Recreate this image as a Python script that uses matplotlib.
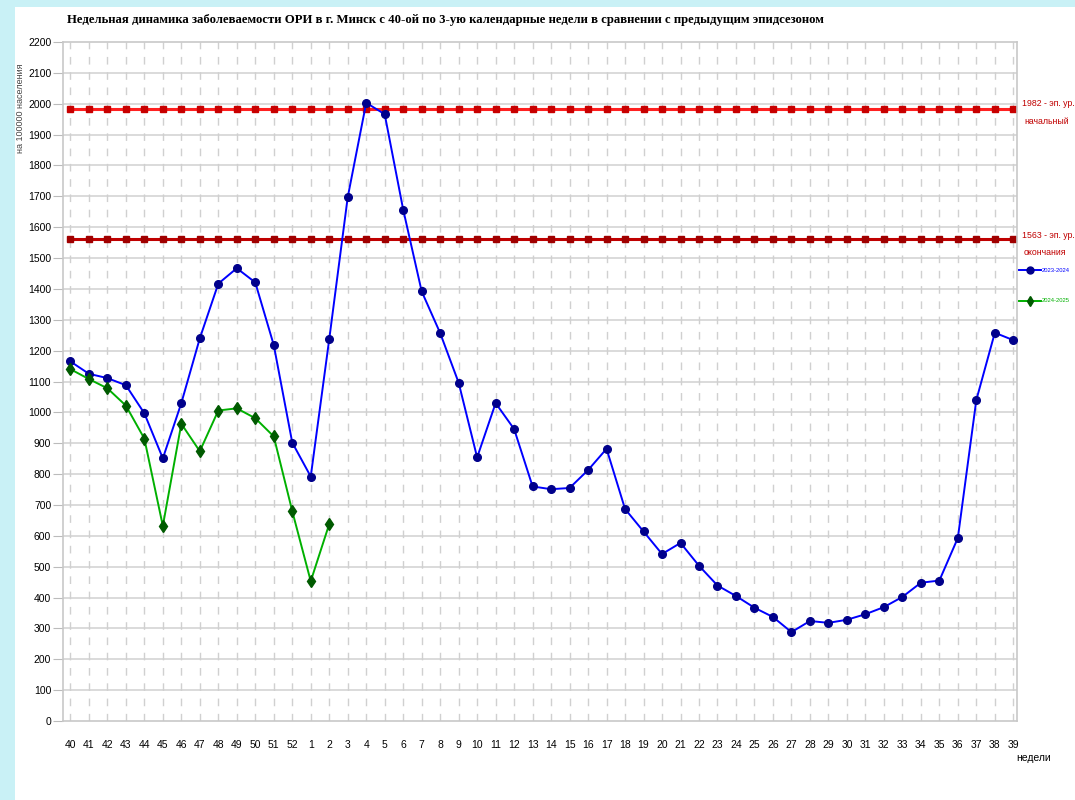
import numpy as np
import matplotlib.pyplot as plt
from matplotlib.patches import Rectangle

# weeks 40..52, 1..39
weeks = [str(w) for w in list(range(40, 53)) + list(range(1, 40))]

season_2023 = [1165, 1125, 1111, 1088, 997, 851, 1030, 1240, 1417, 1467, 1421, 1218, 902,
               792, 1237, 1697, 2003, 1966, 1657, 1392, 1257, 1096, 854, 1030, 946, 760,
               751, 755, 813, 882, 687, 614, 541, 577, 503, 439, 405, 367, 337, 288,
               324, 318, 328, 346, 369, 402, 448, 455, 593, 1040, 1258, 1234]
season_2024 = [1140, 1108, 1078, 1022, 915, 632, 963, 874, 1006, 1013, 981, 922, 680,
               453, 638]

level_start = 1982
level_end = 1563

sans = 'Liberation Sans'

fig = plt.figure(figsize=(10.75, 8), dpi=100)
fig.patch.set_facecolor('white')
# light cyan frame of the slide
fig.add_artist(Rectangle((0, 0), 15 / 1075, 1, transform=fig.transFigure,
                         facecolor='#c9f1f6', edgecolor='none'))
fig.add_artist(Rectangle((0, 1 - 7 / 800), 1, 7 / 800, transform=fig.transFigure,
                         facecolor='#c9f1f6', edgecolor='none'))

ax = fig.add_axes([63 / 1075, 1 - 721 / 800, (1017 - 63) / 1075, (721 - 42) / 800])
x = np.arange(len(weeks))

# grid
for yv in range(100, 2200, 100):
    ax.axhline(yv, color='#d4d4d4', lw=1.2, zorder=0)
for xv in x:
    ax.axvline(xv, color='#d0d0d0', lw=1.0, dashes=(5.5, 5.5), zorder=0)

# epidemic thresholds
ax.plot(x, [level_start] * len(x), color='#ff2020', lw=2.2, marker='s', ms=5,
        mfc='#c80000', mec='#c80000', zorder=2)
ax.plot(x, [level_end] * len(x), color='#c00000', lw=2.2, marker='s', ms=5,
        mfc='#a00000', mec='#a00000', zorder=2)

ax.plot(x, season_2023, color='#0000ff', lw=1.4, marker='o', ms=5.5,
        mfc='#00008b', mec='#00008b', zorder=3)
ax.plot(x[:len(season_2024)], season_2024, color='#00b000', lw=1.4, marker='d', ms=6.5,
        mfc='#005a00', mec='#005a00', zorder=4)

ax.set_xlim(-0.4, 51.2)
ax.set_ylim(0, 2200)
ax.set_yticks(range(0, 2201, 100))
ax.set_xticks(x)
ax.set_xticklabels(weeks, fontsize=7.5, family=sans)
ax.tick_params(axis='y', length=7, color='#bbbbbb', labelsize=7.5, pad=1.5)
ax.tick_params(axis='x', length=0, pad=14)
for lab in ax.get_yticklabels():
    lab.set_family(sans)
for s in ax.spines.values():
    s.set_color('#c8c8c8')
    s.set_linewidth(1.2)

fig.text(21 / 1075, 1 - 108 / 800, 'на 100000 населения', rotation=90, fontsize=6.5,
         family=sans, color='#444444', ha='center', va='center')
fig.text(1016 / 1075, 1 - 758 / 800, 'недели', fontsize=7.5, family=sans,
         ha='left', va='center')

fig.text(67 / 1075, 1 - 20 / 800,
         'Недельная динамика заболеваемости ОРИ в г. Минск с 40-ой по 3-ую '
         'календарные недели в сравнении с предыдущим эпидсезоном',
         family='Liberation Serif', fontweight='bold', fontsize=9.2,
         ha='left', va='center')

# threshold labels
red = '#c00000'
for yy, xx, txt in [(103, 1022, '1982 - эп. ур.'), (122, 1024, 'начальный'),
                    (235, 1022, '1563 - эп. ур.'), (253, 1024, 'окончания')]:
    fig.text(xx / 1075, 1 - yy / 800, txt, fontsize=6.3, color=red, family=sans,
             ha='left', va='center')

# legend
for yy, col, mcol, mk, name in [(270, '#0000ff', '#00008b', 'o', '2023-2024'),
                                (301, '#00b000', '#005a00', 'd', '2024-2025')]:
    yf = 1 - yy / 800
    fig.add_artist(plt.Line2D([1019 / 1075, 1041 / 1075], [yf, yf], color=col, lw=1.4,
                              transform=fig.transFigure))
    fig.add_artist(plt.Line2D([1030 / 1075], [yf], marker=mk, ms=5, color=mcol,
                              transform=fig.transFigure))
    fig.text(1042 / 1075, yf, name, fontsize=4.2, color=col, family=sans,
             ha='left', va='center')

fig.savefig('out.png', dpi=100)
